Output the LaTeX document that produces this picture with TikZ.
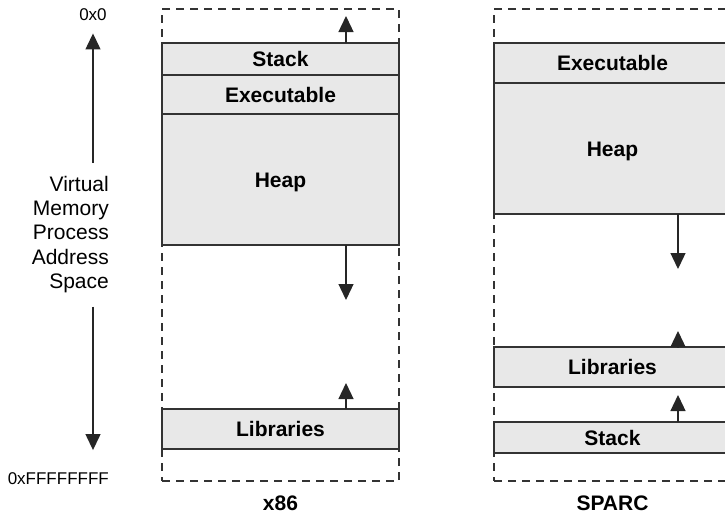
\documentclass[tikz,border=0pt]{standalone}
\usepackage{fontspec}
\setmainfont{Liberation Sans}
\usetikzlibrary{positioning,arrows.meta}

\begin{document}
\begin{tikzpicture}[
    x=1pt, y=1pt,
    node distance=0pt,
    frame/.style={draw=black!80, dash pattern=on 8pt off 6pt, line width=1.2pt, minimum width=237pt, minimum height=472pt, inner sep=0pt, outer sep=0pt},
    seg/.style={draw=black!80, line width=1.3pt, fill=gray!18, minimum width=237pt, inner sep=0pt, outer sep=0pt, font=\fontsize{21}{24}\selectfont\bfseries, text height=15pt, text depth=0pt},
    title/.style={font=\fontsize{21}{24}\selectfont\bfseries, inner sep=0pt, text height=15pt, text depth=0pt},
    hex/.style={font=\fontsize{17}{20}\selectfont, inner sep=0pt, text height=12.5pt, text depth=0pt},
    arrow/.style={-{Triangle[width=15pt,length=16pt]}, line width=1.3pt, draw=black!85, fill=black!85}
]
    \useasboundingbox (0,0) rectangle (725,-515);

    % address axis
    \node[hex] (lo) at (93,-14) {0x0};
    \node[hex, anchor=east] (hi) at (109,-478.5) {0xFFFFFFFF};
    \node[anchor=north east, align=right, inner sep=0pt, font=\fontsize{21}{24.25}\selectfont] (vas) at (109,-176) {Virtual\\Memory\\Process\\Address\\Space};
    \draw[arrow, shorten <=13pt, shorten >=13pt] (lo |- vas.north) -- (lo.south);
    \draw[arrow, shorten <=14pt, shorten >=22pt] (lo |- vas.south) -- (lo |- hi.north);

    % x86 layout
    \node[frame] (frame86) at (280.5,-245) {};
    \node[seg, minimum height=32pt, below=34pt of frame86.north] (stack86) {Stack};
    \node[seg, minimum height=39pt, below=of stack86] (exec86) {Executable};
    \node[seg, minimum height=131pt, below=of exec86] (heap86) {Heap};
    \node[seg, minimum height=40pt, above=32pt of frame86.south] (lib86) {Libraries};
    \node[title, below=14pt of frame86] (x86) {x86};

    % SPARC layout
    \node[frame] (framesp) at (612.5,-245) {};
    \node[seg, minimum height=40pt, below=34pt of framesp.north] (execsp) {Executable};
    \node[seg, minimum height=131pt, below=of execsp] (heapsp) {Heap};
    \node[seg, minimum height=31pt, above=28pt of framesp.south] (stacksp) {Stack};
    \node[seg, minimum height=40pt, above=35pt of stacksp] (libsp) {Libraries};
    \node[title, below=14pt of framesp] (sparc) {SPARC};

    % growth directions
    \coordinate (stackgrow86) at ([xshift=65.5pt, yshift=27pt]stack86.north);
    \coordinate (heapgrow86) at ([xshift=65.5pt, yshift=-55pt]heap86.south);
    \coordinate (libgrow86) at ([xshift=65.5pt, yshift=26pt]lib86.north);
    \coordinate (heapgrowsp) at ([xshift=65.5pt, yshift=-55pt]heapsp.south);
    \coordinate (libgrowsp) at ([xshift=65.5pt, yshift=16pt]libsp.north);
    \coordinate (stackgrowsp) at ([xshift=65.5pt, yshift=27pt]stacksp.north);

    \draw[arrow] ([xshift=65.5pt]stack86.north) -- (stackgrow86);
    \draw[arrow] ([xshift=65.5pt]heap86.south) -- (heapgrow86);
    \draw[arrow] ([xshift=65.5pt]lib86.north) -- (libgrow86);
    \draw[arrow] ([xshift=65.5pt]heapsp.south) -- (heapgrowsp);
    \draw[arrow] ([xshift=65.5pt]libsp.north) -- (libgrowsp);
    \draw[arrow] ([xshift=65.5pt]stacksp.north) -- (stackgrowsp);
\end{tikzpicture}
\end{document}
